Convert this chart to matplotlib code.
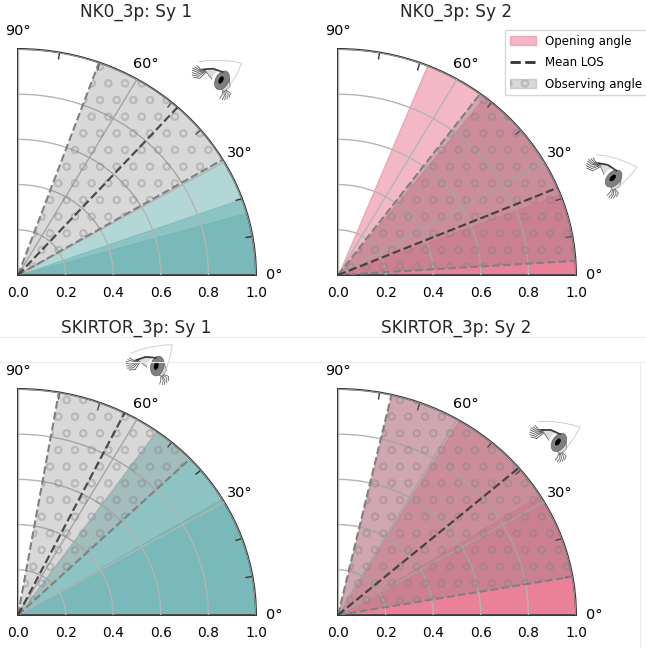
"""Opening angle vs observing angle quarter-polar panels."""

from __future__ import annotations

import matplotlib
matplotlib.use("Agg")
import matplotlib.pyplot as plt
from matplotlib.lines import Line2D
from matplotlib.patches import Ellipse, Patch, Polygon
import numpy as np

WIDTH, HEIGHT = 646, 648

titles = ["NK0_3p: Sy 1", "NK0_3p: Sy 2", "SKIRTOR_3p: Sy 1", "SKIRTOR_3p: Sy 2"]
opening_low = [16.0, 21.0, 31.0, 32.0]
opening_mid = [19.7, 52.0, 43.8, 59.5]
opening_high = [30.7, 68.0, 54.5, 77.0]
observing_low = [30.7, 3.6, 43.7, 9.8]
observing_mean = [47.9, 22.7, 63.4, 40.6]
observing_high = [70.1, 53.3, 80.1, 77.0]
panel_colors = ["#68b1b1", "#e8708c", "#68b1b1", "#e8708c"]
radial_ticks = [0.0, 0.2, 0.4, 0.6, 0.8, 1.0]
angle_labels = [0, 30, 60, 90]
minor_angles = [10, 20, 40, 50, 70, 80]

# pixel placement of each panel: origin x, origin y
origins = [(18, 275), (338, 275), (18, 615), (338, 615)]
title_x = [136, 456, 136, 456]
title_y = [12, 12, 328, 328]
eye_pos = [(221, 79), (613, 177), (156, 365), (558, 441)]
eye_rot = [0, -15, 14, -5]
RX, RY = 238, 226

plt.rcParams["hatch.linewidth"] = 1.3


def draw_eye(ax, cx, cy, rot):
    """Hand-traced eye sketch, local units are 1/3 px around the iris, y down."""
    a = np.radians(rot)

    def tr(points):
        p = np.asarray(points, dtype=float) / 3.0
        x = p[:, 0] * np.cos(a) + p[:, 1] * np.sin(a)
        y = -p[:, 0] * np.sin(a) + p[:, 1] * np.cos(a)
        return np.column_stack([x + cx, y + cy])

    brow = [(-65, -52), (-35, -56), (0, -56), (40, -52), (62, -47), (48, -15), (28, 18), (15, 36)]
    ball = [(-50, -28), (-25, -32), (5, -22), (25, 0), (27, 22), (10, 38), (-10, 22), (-30, -3)]
    lid = [(-52, -29), (-25, -31), (5, -21)]
    ax.add_patch(Polygon(tr(ball), closed=True, fc="#dcdcdc", ec="#808080", lw=0.7, zorder=5))
    ax.plot(*tr(brow).T, color="#c8c8c8", lw=0.6, zorder=5)
    white = Ellipse(tr([(-4, 2)])[0], 15, 21, angle=28 - rot, fc="white", ec="none", zorder=5.5)
    ax.add_patch(white)
    iris = Ellipse(tr([(3, 4)])[0], 13, 20, angle=28 - rot, fc="#808080", ec="#606060", lw=0.5, zorder=6)
    ax.add_patch(iris)
    ax.add_patch(Ellipse(tr([(0, 3)])[0], 4.5, 8, angle=28 - rot, fc="black", ec="none", zorder=7))
    ax.plot(*tr(lid).T, color="#3a3a3a", lw=1.2, zorder=7)
    top_lashes = [
        [(-45, -28), (-62, -30), (-72, -40)],
        [(-46, -28), (-66, -28), (-78, -36)],
        [(-48, -27), (-68, -24), (-84, -32)],
        [(-50, -25), (-70, -20), (-86, -26)],
        [(-50, -23), (-70, -14), (-86, -19)],
        [(-48, -22), (-68, -8), (-86, -12)],
        [(-45, -20), (-64, -2), (-82, -5)],
    ]
    for lash in top_lashes:
        ax.plot(*tr(lash).T, color="#555555", lw=0.6, zorder=6)
    low_lashes = [
        [(8, 38), (10, 50), (4, 62)],
        [(11, 38), (15, 50), (11, 62)],
        [(14, 36), (22, 46), (18, 60)],
        [(16, 34), (28, 42), (25, 54)],
        [(5, 38), (3, 48), (-3, 58)],
    ]
    for lash in low_lashes:
        ax.plot(*tr(lash).T, color="#666666", lw=0.6, zorder=6)


def fill_wedge(ax, start, stop, **kwargs):
    theta = np.radians(np.linspace(start, stop, 100))
    ax.fill_between(theta, 0, 1, **kwargs)


def plot_panel(i, fig):
    ox, oy = origins[i]
    rect = [ox / WIDTH, 1 - oy / HEIGHT, RX / WIDTH, RY / HEIGHT]
    ax = fig.add_axes(rect, projection="polar")
    ax.set_aspect("auto")
    ax.set_thetamin(0)
    ax.set_thetamax(90)
    ax.set_rlim(0, 1)

    color = panel_colors[i]
    for edge in (opening_low[i], opening_mid[i], opening_high[i]):
        fill_wedge(ax, 0, edge, color=color, alpha=0.5, lw=0.8, zorder=2)

    fill_wedge(ax, observing_low[i], observing_high[i], facecolor="grey", edgecolor="grey",
               alpha=0.3, hatch="o", lw=0, zorder=3)

    for edge in (observing_low[i], observing_high[i]):
        t = np.radians(edge)
        ax.plot([t, t], [0, 1], color="grey", ls="--", lw=1.5, zorder=4)
    t = np.radians(observing_mean[i])
    ax.plot([t, t], [0, 1], color="#333333", ls="--", lw=1.6, alpha=0.85, zorder=4)

    ax.set_thetagrids(angle_labels, [f"{a}°" for a in angle_labels], fontsize=10.4)
    ax.set_xticks(np.radians(minor_angles), minor=True)
    ax.set_rticks(radial_ticks)
    ax.set_yticklabels([f"{r:.1f}" for r in radial_ticks], fontsize=10.4)
    ax.tick_params(axis="x", which="minor", direction="in", length=5, width=1, color="#333333",
                   top=True, bottom=False)
    ax.tick_params(axis="x", which="major", length=0, pad=6)
    ax.tick_params(axis="y", length=0, pad=8)
    ax.grid(True, color="#b4b4b4", lw=1.0, zorder=3.5)
    ax.set_axisbelow(False)
    for spine in ax.spines.values():
        spine.set_color("#333333")
        spine.set_linewidth(1.4)

    fig.text(title_x[i] / WIDTH, 1 - title_y[i] / HEIGHT, titles[i], fontsize=12.2,
             ha="center", va="center", color="#262626")
    return ax


def main() -> None:
    fig = plt.figure(figsize=(WIDTH / 100, HEIGHT / 100), dpi=100)

    # faint page rules left in the composite
    fig.add_artist(Line2D([0, 1], [1 - 337 / HEIGHT] * 2, color="#ececec", lw=0.8))
    fig.add_artist(Line2D([0, 1], [1 - 362 / HEIGHT] * 2, color="#ececec", lw=0.8))
    fig.add_artist(Line2D([640 / WIDTH] * 2, [0, 1 - 362 / HEIGHT], color="#ececec", lw=0.8))

    axes = [plot_panel(i, fig) for i in range(4)]

    overlay = fig.add_axes([0, 0, 1, 1], facecolor="none")
    overlay.set_xlim(0, WIDTH)
    overlay.set_ylim(HEIGHT, 0)
    overlay.axis("off")
    for (cx, cy), rot in zip(eye_pos, eye_rot):
        draw_eye(overlay, cx, cy, rot)

    handles = [
        Patch(facecolor="#e8708c", edgecolor="#e8708c", alpha=0.5, label="Opening angle"),
        Line2D([], [], color="#333333", ls="--", lw=2, label="Mean LOS"),
        Patch(facecolor="grey", edgecolor="grey", alpha=0.3, hatch="o", label="Observing angle"),
    ]
    overlay.legend(handles=handles, loc="upper right", bbox_to_anchor=(647 / WIDTH, 1 - 30 / HEIGHT),
                   fontsize=8.5, borderaxespad=0, framealpha=0.8, labelspacing=0.72,
                   handlelength=2.2, handletextpad=0.8).set_zorder(10)

    fig.savefig("out.png", dpi=100)
    plt.close(fig)


if __name__ == "__main__":
    main()
